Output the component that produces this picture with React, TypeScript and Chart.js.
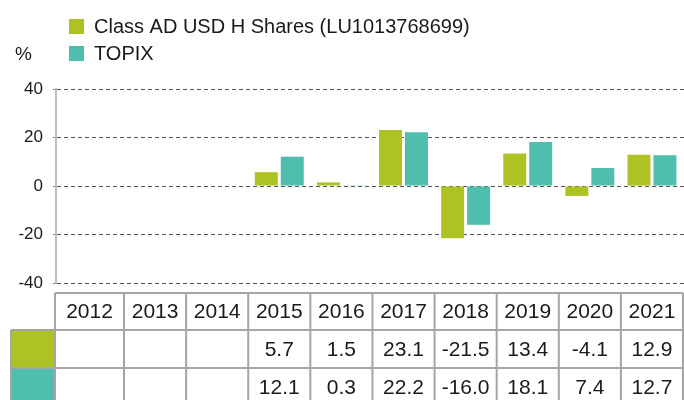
import React, { useEffect, useRef } from "react";
import { Chart, registerables } from "chart.js";

Chart.register(...registerables);

const FONT = "'Liberation Sans', Arial, Helvetica, sans-serif";

const years = ["2012", "2013", "2014", "2015", "2016", "2017", "2018", "2019", "2020", "2021"];
const fundName = "Class AD USD H Shares (LU1013768699)";
const indexName = "TOPIX";
const fundValues: (number | null)[] = [null, null, null, 5.7, 1.5, 23.1, -21.5, 13.4, -4.1, 12.9];
const indexValues: (number | null)[] = [null, null, null, 12.1, 0.3, 22.2, -16.0, 18.1, 7.4, 12.7];
const yMin = -40;
const yMax = 40;
const yStep = 20;
const unitLabel = "%";

const fundColor = "#afc223";
const indexColor = "#4fbeac";
const textColor = "#1a1a1a";
const tableLine = "#a5a5a5";

export default function App() {
  const ref = useRef<HTMLCanvasElement>(null);

  useEffect(() => {
    const canvas = ref.current;
    if (!canvas) return;

    const tablePlugin = {
      id: "tableAndLegend",
      afterDraw(chart: any) {
        const ctx = chart.ctx as CanvasRenderingContext2D;
        const xs = chart.scales.x;
        const rows = [293, 330, 368, 406];
        const swatchLeft = 11;
        const tableLeft = 55;
        const bounds: number[] = [tableLeft];
        for (let i = 0; i < years.length - 1; i++) bounds.push(xs.getPixelForValue(i + 0.5));
        bounds.push(xs.getPixelForValue(years.length - 0.5));
        const right = bounds[bounds.length - 1];

        ctx.save();
        ctx.fillStyle = fundColor;
        ctx.fillRect(swatchLeft, rows[1], tableLeft - swatchLeft, rows[2] - rows[1]);
        ctx.fillStyle = indexColor;
        ctx.fillRect(swatchLeft, rows[2], tableLeft - swatchLeft, rows[3] - rows[2]);

        ctx.strokeStyle = tableLine;
        ctx.lineWidth = 2;
        ctx.beginPath();
        const line = (x1: number, y1: number, x2: number, y2: number) => {
          ctx.moveTo(x1, y1);
          ctx.lineTo(x2, y2);
        };
        line(tableLeft, rows[0], right, rows[0]);
        for (let r = 1; r < rows.length; r++) line(swatchLeft, rows[r], right, rows[r]);
        line(swatchLeft, rows[1], swatchLeft, rows[3]);
        bounds.forEach((b) => line(b, rows[0], b, rows[3]));
        ctx.stroke();

        ctx.fillStyle = textColor;
        ctx.font = `21px ${FONT}`;
        ctx.textAlign = "center";
        ctx.textBaseline = "middle";
        years.forEach((y, i) => {
          const cx = (bounds[i] + bounds[i + 1]) / 2;
          ctx.fillText(y, cx, (rows[0] + rows[1]) / 2 + 1);
          const f = fundValues[i];
          const t = indexValues[i];
          if (f !== null) ctx.fillText(f.toFixed(1), cx, (rows[1] + rows[2]) / 2 + 1);
          if (t !== null) ctx.fillText(t.toFixed(1), cx, (rows[2] + rows[3]) / 2 + 1);
        });

        // legend
        ctx.textAlign = "left";
        ctx.font = `20px ${FONT}`;
        ctx.fillStyle = fundColor;
        ctx.fillRect(69, 19, 15, 15);
        ctx.fillStyle = indexColor;
        ctx.fillRect(69, 46, 15, 15);
        ctx.fillStyle = textColor;
        ctx.fillText(fundName, 94, 27);
        ctx.fillText(indexName, 94, 54);
        ctx.font = `19px ${FONT}`;
        ctx.fillText(unitLabel, 15, 55);
        ctx.restore();
      },
    };

    const chart = new Chart(canvas, {
      type: "bar",
      data: {
        datasets: [
          {
            label: fundName,
            data: years.map((_, i) => ({ x: i, y: fundValues[i] })) as any,
            backgroundColor: fundColor,
            borderWidth: 0,
            barPercentage: 0.885,
            categoryPercentage: 0.836,
          },
          {
            label: indexName,
            data: years.map((_, i) => ({ x: i, y: indexValues[i] })) as any,
            backgroundColor: indexColor,
            borderWidth: 0,
            barPercentage: 0.885,
            categoryPercentage: 0.836,
          },
        ],
      },
      options: {
        responsive: false,
        animation: false,
        devicePixelRatio: 1,
        layout: { padding: { top: 89, bottom: 117, left: 0, right: 0 } },
        plugins: {
          legend: { display: false },
          tooltip: { enabled: false },
        },
        scales: {
          x: {
            type: "linear",
            display: false,
            offset: false,
            min: -0.5948,
            max: 9.516,
            ticks: { stepSize: 1, includeBounds: false },
          },
          y: {
            min: yMin,
            max: yMax,
            afterFit: (scale: any) => {
              scale.width = 56;
            },
            ticks: {
              stepSize: yStep,
              padding: 10,
              color: textColor,
              font: { family: FONT, size: 17 },
            },
            grid: {
              color: "#555555",
              lineWidth: 1,
              tickLength: 3,
              drawTicks: true,
              tickColor: "#777777",
            },
            border: { display: true, color: "#bdbdbd", width: 2, dash: [4, 3] },
          },
        },
      },
      plugins: [tablePlugin],
    });

    return () => chart.destroy();
  }, []);

  return (
    <div style={{ position: "absolute", left: 0, top: 0, width: 684, height: 400, background: "#fff" }}>
      <canvas ref={ref} width={684} height={400} style={{ display: "block", width: 684, height: 400 }} />
    </div>
  );
}
